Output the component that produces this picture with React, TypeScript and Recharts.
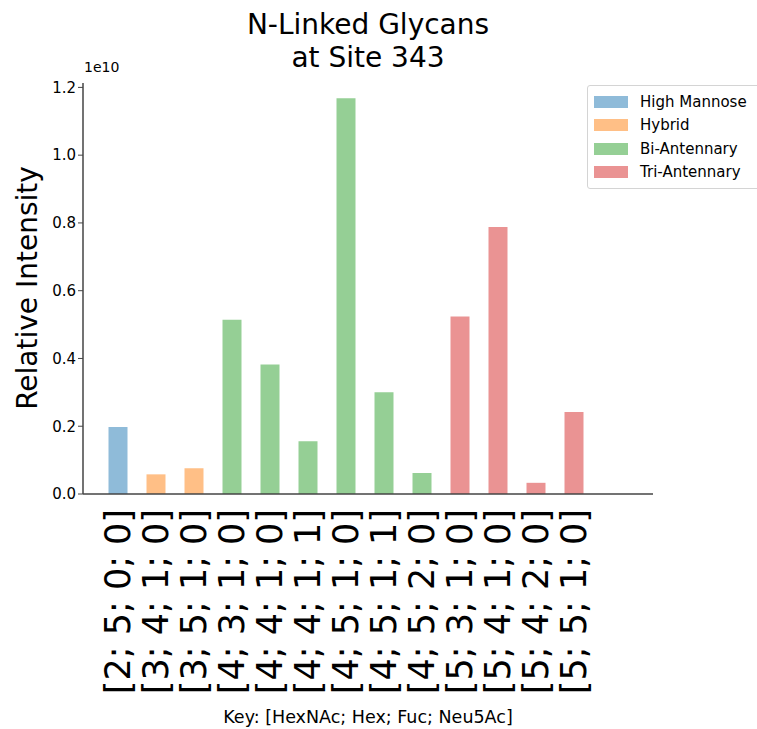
import React from 'react';
import { BarChart, Bar, XAxis, YAxis, Cell } from 'recharts';

const glycans = [
  '[2; 5; 0; 0]', '[3; 4; 1; 0]', '[3; 5; 1; 0]', '[4; 3; 1; 0]', '[4; 4; 1; 0]',
  '[4; 4; 1; 1]', '[4; 5; 1; 0]', '[4; 5; 1; 1]', '[4; 5; 2; 0]', '[5; 3; 1; 0]',
  '[5; 4; 1; 0]', '[5; 4; 2; 0]', '[5; 5; 1; 0]',
];
const intensity = [
  0.198e10, 0.058e10, 0.076e10, 0.514e10, 0.382e10, 0.156e10, 1.168e10,
  0.300e10, 0.062e10, 0.524e10, 0.788e10, 0.033e10, 0.242e10,
];
const glycanType = [
  'High Mannose', 'Hybrid', 'Hybrid', 'Bi-Antennary', 'Bi-Antennary', 'Bi-Antennary',
  'Bi-Antennary', 'Bi-Antennary', 'Bi-Antennary', 'Tri-Antennary', 'Tri-Antennary',
  'Tri-Antennary', 'Tri-Antennary',
];
const types = ['High Mannose', 'Hybrid', 'Bi-Antennary', 'Tri-Antennary'];
const typeColors = ['#8fbbd9', '#ffbf86', '#95cf95', '#ea9393'];
const yTicks = [0, 0.2e10, 0.4e10, 0.6e10, 0.8e10, 1.0e10, 1.2e10];

const FONT = '"DejaVu Sans", sans-serif';

const data = glycans.map((g, i) => ({ name: g, value: intensity[i], type: glycanType[i] }));

const RotatedTick = (props: any) => {
  const { x, y, payload } = props;
  return (
    <text
      x={x}
      y={y + 7}
      transform={`rotate(-90, ${x}, ${y + 7})`}
      textAnchor="end"
      dominantBaseline="central"
      fontSize={35}
      fontFamily={FONT}
      fill="#000"
    >
      {payload.value}
    </text>
  );
};

const LegendBox = () => (
  <div
    style={{
      position: 'absolute',
      top: 85,
      left: 587,
      width: 166,
      border: '1px solid #d4d4d4',
      borderRadius: 3,
      background: '#fff',
      padding: '4px 0 4px 6px',
      fontFamily: FONT,
      fontSize: 15,
      color: '#000',
    }}
  >
    {types.map((t, i) => (
      <div key={t} style={{ display: 'flex', alignItems: 'center', height: 23.5 }}>
        <span style={{ width: 34, height: 12, background: typeColors[i], marginRight: 12 }} />
        <span>{t}</span>
      </div>
    ))}
  </div>
);

export default function App() {
  return (
    <div style={{ position: 'absolute', left: 0, top: 0, width: 757, height: 729, background: '#fff' }}>
      <div
        style={{
          position: 'absolute',
          left: 83,
          width: 570,
          top: 8,
          textAlign: 'center',
          fontFamily: FONT,
          fontSize: 28,
          lineHeight: '33px',
          color: '#000',
        }}
      >
        N-Linked Glycans
        <br />
        at Site 343
      </div>
      <BarChart
        width={757}
        height={729}
        data={data}
        margin={{ top: 83, right: 104, left: 0, bottom: 0 }}
      >
        <XAxis
          dataKey="name"
          type="category"
          height={235}
          padding={{ left: 15.5, right: 60.5 }}
          tickLine={false}
          axisLine={{ stroke: '#444', strokeWidth: 1.5 }}
          tick={<RotatedTick />}
          interval={0}
        />
        <YAxis
          width={83}
          domain={[0, 1.213e10]}
          ticks={yTicks}
          tickFormatter={(v: number) => (v / 1e10).toFixed(1)}
          tick={{ fontSize: 15, fontFamily: FONT, fill: '#000' }}
          tickSize={5}
          tickLine={{ stroke: '#444' }}
          axisLine={{ stroke: '#444', strokeWidth: 1.5 }}
        />
        <Bar dataKey="value" barSize={19} isAnimationActive={false}>
          {data.map((d, i) => (
            <Cell key={i} fill={typeColors[types.indexOf(d.type)]} />
          ))}
        </Bar>
        <text x={84} y={72} fontSize={14} fontFamily={FONT} fill="#000">
          1e10
        </text>
        <text
          x={27}
          y={288}
          transform="rotate(-90, 27, 288)"
          textAnchor="middle"
          dominantBaseline="central"
          fontSize={28}
          fontFamily={FONT}
          fill="#000"
        >
          Relative Intensity
        </text>
        <text x={368} y={723} textAnchor="middle" fontSize={17.5} fontFamily={FONT} fill="#000">
          Key: [HexNAc; Hex; Fuc; Neu5Ac]
        </text>
      </BarChart>
      <LegendBox />
    </div>
  );
}
